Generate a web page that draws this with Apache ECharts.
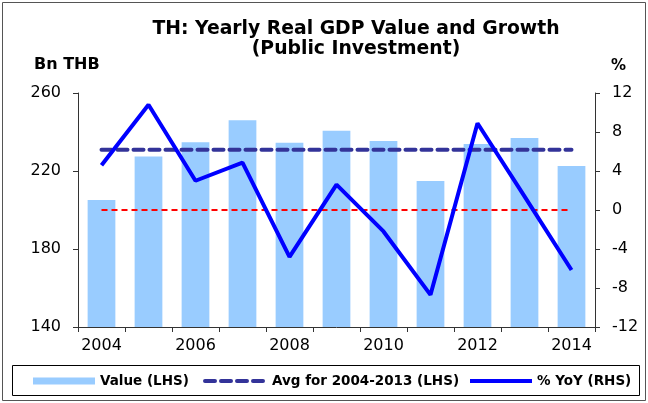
<!DOCTYPE html>
<html><head><meta charset="utf-8">
<script src="https://cdn.jsdelivr.net/npm/echarts@6/dist/echarts.min.js"></script>
<style>html,body{margin:0;padding:0;background:#fff}#c{width:648px;height:403px}</style>
</head><body><div id="c"></div>
<script>
const years = ['2004','2005','2006','2007','2008','2009','2010','2011','2012','2013','2014'];
const valueLHS = [205.1, 227.5, 234.7, 246.0, 234.5, 240.7, 235.4, 214.9, 233.8, 236.9, 222.6];
const avgLHS = [230.9, 230.9, 230.9, 230.9, 230.9, 230.9, 230.9, 230.9, 230.9, 230.9, 230.9];
const yoyRHS = [4.6, 10.8, 3.0, 4.85, -4.8, 2.6, -2.2, -8.7, 8.9, 1.4, -6.15];
const zeroRHS = [0,0,0,0,0,0,0,0,0,0,0];
const leftTicks = [140, 180, 220, 260];
const rightTicks = [-12, -8, -4, 0, 4, 8, 12];
const legendNames = ['Value (LHS)', 'Avg for 2004-2013 (LHS)', '% YoY (RHS)'];

const chart = echarts.init(document.getElementById('c'), null, {renderer:'canvas'});
const F = '"DejaVu Sans", Arial, sans-serif';
const legText = {fontSize:13.5, fontWeight:'bold', color:'#000', fontFamily:F};
function leg(i, left, extra){
  return {data:[Object.assign({name:legendNames[i]}, extra||{})], left:left, top:374, padding:0,
    itemWidth:62, itemHeight:7, itemGap:0, textStyle:legText, selectedMode:false};
}
chart.setOption({
  animation:false,
  backgroundColor:'#fff',
  textStyle:{fontFamily:F},
  title:{
    text:'TH: Yearly Real GDP Value and Growth\n(Public Investment)',
    left:351, top:14, textAlign:'center',
    textStyle:{fontSize:18.8, fontWeight:'bold', color:'#000', lineHeight:20, fontFamily:F}
  },
  graphic:[
    {type:'rect', shape:{x:2.5,y:2.5,width:643,height:398}, style:{fill:'none', stroke:'#555', lineWidth:1}},
    {type:'text', left:34, top:57, style:{text:'Bn THB', font:'bold 16px '+F, fill:'#000'}},
    {type:'text', left:611, top:59, style:{text:'%', font:'bold 15px '+F, fill:'#000'}},
    {type:'rect', shape:{x:12.5,y:365.5,width:627,height:30}, style:{fill:'none', stroke:'#000', lineWidth:1}}
  ],
  legend:[
    leg(0, 33, {icon:'rect'}),
    leg(1, 203, {itemStyle:{opacity:0}, lineStyle:{width:4}}),
    leg(2, 468, {itemStyle:{opacity:0}, lineStyle:{width:4}})
  ],
  grid:{left:78, right:53, top:93, bottom:76},
  xAxis:{
    type:'category', data:years, boundaryGap:true,
    axisLine:{onZero:false, lineStyle:{color:'#333', width:1}},
    axisTick:{show:true, interval:0, length:5, lineStyle:{color:'#333'}},
    axisLabel:{interval:1, fontSize:16, color:'#000', margin:11, fontFamily:F}
  },
  yAxis:[
    {type:'value', min:140, max:260, interval:40, position:'left',
     axisLine:{show:true, lineStyle:{color:'#333'}},
     axisTick:{show:true, length:5, lineStyle:{color:'#333'}},
     splitLine:{show:false},
     axisLabel:{fontSize:16, color:'#000', margin:17, fontFamily:F}},
    {type:'value', min:-12, max:12, interval:4, position:'right',
     axisLine:{show:true, lineStyle:{color:'#333'}},
     axisTick:{show:true, length:5, lineStyle:{color:'#333'}},
     splitLine:{show:false},
     axisLabel:{fontSize:16, color:'#000', margin:17, fontFamily:F}}
  ],
  series:[
    {name:'Value (LHS)', type:'bar', data:valueLHS, yAxisIndex:0, barWidth:'59%',
     itemStyle:{color:'#99CCFF'}},
    {name:'zero', type:'line', data:zeroRHS, yAxisIndex:1, symbol:'none', z:3,
     lineStyle:{color:'#FF0000', width:1.8, type:[6,4]}},
    {name:'Avg for 2004-2013 (LHS)', type:'line', data:avgLHS, yAxisIndex:0, symbol:'none', z:4,
     lineStyle:{color:'#333399', width:4, type:[10,6], cap:'round'}, itemStyle:{color:'#333399'}},
    {name:'% YoY (RHS)', type:'line', data:yoyRHS, yAxisIndex:1, symbol:'none', z:5,
     lineStyle:{color:'#0000FF', width:4}, itemStyle:{color:'#0000FF'}}
  ]
});
</script></body></html>
